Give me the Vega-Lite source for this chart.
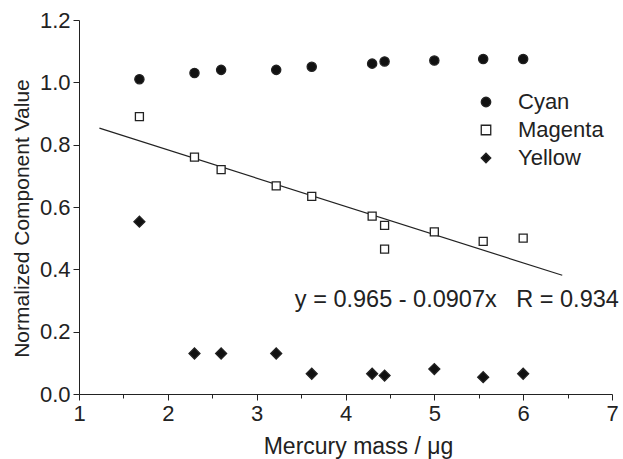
{
  "$schema": "https://vega.github.io/schema/vega-lite/v6.json",
  "width": 533,
  "height": 374,
  "autosize": {"type": "none"},
  "padding": {"left": 79, "top": 20, "right": 11, "bottom": 65},
  "background": "white",
  "config": {
    "view": {"stroke": null},
    "font": "Liberation Sans",
    "axis": {"domainColor": "#222", "tickColor": "#222", "labelColor": "#222", "titleColor": "#222", "grid": false, "labelFont": "Liberation Sans", "titleFont": "Liberation Sans", "titleFontWeight": "normal", "labelFontSize": 22, "titleFontSize": 21},
    "legend": {"labelFont": "Liberation Sans", "labelFontSize": 22, "labelColor": "#222", "orient": "none", "legendX": 396, "legendY": 71, "labelOffset": 21, "rowPadding": 6, "symbolSize": 90, "symbolStrokeWidth": 1.3, "title": null}
  },
  "datasets": {
    "pts": [
      {"mass": 1.68, "value": 1.01, "series": "Cyan"},
      {"mass": 2.3, "value": 1.03, "series": "Cyan"},
      {"mass": 2.6, "value": 1.04, "series": "Cyan"},
      {"mass": 3.22, "value": 1.04, "series": "Cyan"},
      {"mass": 3.62, "value": 1.05, "series": "Cyan"},
      {"mass": 4.3, "value": 1.06, "series": "Cyan"},
      {"mass": 4.44, "value": 1.067, "series": "Cyan"},
      {"mass": 5.0, "value": 1.07, "series": "Cyan"},
      {"mass": 5.55, "value": 1.075, "series": "Cyan"},
      {"mass": 6.0, "value": 1.075, "series": "Cyan"},
      {"mass": 1.68, "value": 0.89, "series": "Magenta"},
      {"mass": 2.3, "value": 0.76, "series": "Magenta"},
      {"mass": 2.6, "value": 0.72, "series": "Magenta"},
      {"mass": 3.22, "value": 0.668, "series": "Magenta"},
      {"mass": 3.62, "value": 0.634, "series": "Magenta"},
      {"mass": 4.3, "value": 0.571, "series": "Magenta"},
      {"mass": 4.44, "value": 0.541, "series": "Magenta"},
      {"mass": 4.44, "value": 0.465, "series": "Magenta"},
      {"mass": 5.0, "value": 0.52, "series": "Magenta"},
      {"mass": 5.55, "value": 0.49, "series": "Magenta"},
      {"mass": 6.0, "value": 0.5, "series": "Magenta"},
      {"mass": 1.68, "value": 0.553, "series": "Yellow"},
      {"mass": 2.3, "value": 0.13, "series": "Yellow"},
      {"mass": 2.6, "value": 0.13, "series": "Yellow"},
      {"mass": 3.22, "value": 0.13, "series": "Yellow"},
      {"mass": 3.62, "value": 0.065, "series": "Yellow"},
      {"mass": 4.3, "value": 0.065, "series": "Yellow"},
      {"mass": 4.44, "value": 0.059, "series": "Yellow"},
      {"mass": 5.0, "value": 0.08, "series": "Yellow"},
      {"mass": 5.55, "value": 0.054, "series": "Yellow"},
      {"mass": 6.0, "value": 0.065, "series": "Yellow"}
    ],
    "fit": [
      {"mass": 1.23, "value": 0.853},
      {"mass": 6.44, "value": 0.381}
    ],
    "note": [
      {"mass": 3.43, "value": 0.279, "label": "y = 0.965 - 0.0907x\u00a0\u00a0\u00a0R = 0.934"}
    ]
  },
  "layer": [
    {
      "data": {"name": "fit"},
      "mark": {"type": "line", "color": "#222", "strokeWidth": 1.2},
      "encoding": {
        "x": {"field": "mass", "type": "quantitative", "scale": {"domain": [1, 7], "nice": false},
          "axis": {"title": "Mercury mass / μg", "titleFontSize": 23, "values": [1, 1.5, 2, 2.5, 3, 3.5, 4, 4.5, 5, 5.5, 6, 6.5, 7],
            "labelExpr": "datum.value % 1 === 0 ? format(datum.value, 'd') : ''",
            "tickSize": {"condition": {"test": "datum.value % 1 === 0", "value": 6}, "value": 4},
            "labelPadding": 3, "labelFlush": false, "labelOverlap": false,
            "titleX": 279, "titleY": 59, "titleBaseline": "alphabetic"}},
        "y": {"field": "value", "type": "quantitative", "scale": {"domain": [0, 1.2], "nice": false},
          "axis": {"title": "Normalized Component Value", "values": [0, 0.1, 0.2, 0.3, 0.4, 0.5, 0.6, 0.7, 0.8, 0.9, 1.0, 1.1, 1.2],
            "labelExpr": "round(datum.value * 10) % 2 === 0 ? format(datum.value, '.1f') : ''",
            "tickSize": {"condition": {"test": "round(datum.value * 10) % 2 === 0", "value": 6}, "value": 4},
            "labelPadding": 3, "labelFlush": false, "labelOverlap": false,
            "titleAngle": -90, "titleX": -51, "titleY": 198, "titleBaseline": "alphabetic"}}
      }
    },
    {
      "data": {"name": "pts"},
      "transform": [{"filter": "datum.series === 'Cyan'"}],
      "mark": {"type": "point", "filled": true, "strokeWidth": 1.3, "opacity": 1, "size": 85},
      "encoding": {
        "x": {"field": "mass", "type": "quantitative"},
        "y": {"field": "value", "type": "quantitative"},
        "shape": {"field": "series", "type": "nominal", "scale": {"domain": ["Cyan", "Magenta", "Yellow"], "range": ["circle", "square", "diamond"]}},
        "fill": {"field": "series", "type": "nominal", "scale": {"domain": ["Cyan", "Magenta", "Yellow"], "range": ["#111", "white", "#111"]}},
        "stroke": {"field": "series", "type": "nominal", "scale": {"domain": ["Cyan", "Magenta", "Yellow"], "range": ["#222", "#222", "#222"]}}
      }
    },
    {
      "data": {"name": "pts"},
      "transform": [{"filter": "datum.series === 'Magenta'"}],
      "mark": {"type": "point", "filled": true, "strokeWidth": 1.3, "opacity": 1, "size": 64},
      "encoding": {
        "x": {"field": "mass", "type": "quantitative"},
        "y": {"field": "value", "type": "quantitative"},
        "shape": {"field": "series", "type": "nominal"},
        "fill": {"field": "series", "type": "nominal"},
        "stroke": {"field": "series", "type": "nominal"}
      }
    },
    {
      "data": {"name": "pts"},
      "transform": [{"filter": "datum.series === 'Yellow'"}],
      "mark": {"type": "point", "filled": true, "strokeWidth": 1.3, "opacity": 1, "size": 120},
      "encoding": {
        "x": {"field": "mass", "type": "quantitative"},
        "y": {"field": "value", "type": "quantitative"},
        "shape": {"field": "series", "type": "nominal"},
        "fill": {"field": "series", "type": "nominal"},
        "stroke": {"field": "series", "type": "nominal"}
      }
    },
    {
      "data": {"name": "note"},
      "mark": {"type": "text", "align": "left", "baseline": "alphabetic", "fontSize": 23.5, "color": "#222", "font": "Liberation Sans"},
      "encoding": {
        "x": {"field": "mass", "type": "quantitative"},
        "y": {"field": "value", "type": "quantitative"},
        "text": {"field": "label"}
      }
    }
  ]
}
